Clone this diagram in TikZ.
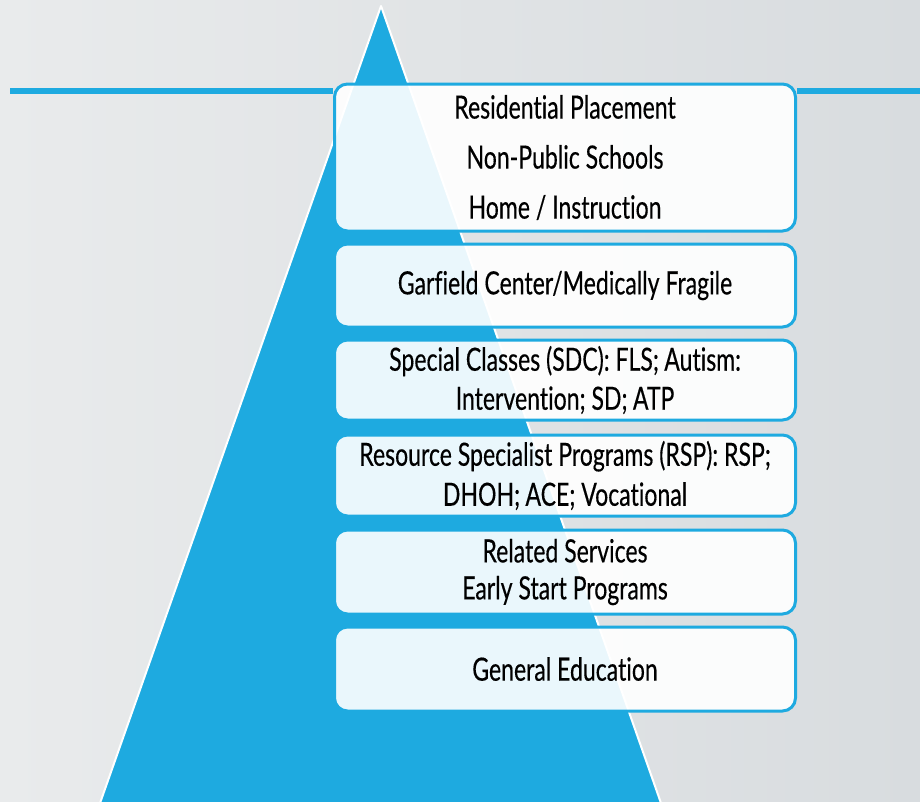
\documentclass[tikz,border=0pt]{standalone}
\usepackage{fontspec}
\setmainfont[FakeStretch=0.72,FakeBold=0.35,Ligatures=NoCommon]{Lato}
\definecolor{pyrblue}{HTML}{1EAAE0}
\definecolor{bgleft}{HTML}{E9EBEC}
\definecolor{bgright}{HTML}{D8DCDF}

\begin{document}
\begin{tikzpicture}[x=1pt,y=-1pt,
    tier/.style={draw=pyrblue,line width=3pt,rounded corners=13pt,fill=white,
      fill opacity=0.91,text opacity=1,minimum width=461pt,align=center,inner sep=0pt},
    tiertext/.style={font=\fontsize{32}{#1}\selectfont}]
\fill[left color=bgleft,right color=bgright] (0,0) rectangle (920,801);
\useasboundingbox (0,0) rectangle (920,801);
% pyramid
\fill[pyrblue,draw=white,line width=2pt,line join=round] (381,6) -- (662,806) -- (99,806) -- cycle;
% tiers
\node[tier,tiertext=50,minimum height=147pt] (resplace) at (565,157.5)
  {Residential Placement\\Non-Public Schools\\Home / Instruction};
\node[tier,tiertext=39,minimum height=83pt] (garfield) at (565,285.5)
  {Garfield Center/Medically Fragile};
\node[tier,tiertext=39,minimum height=80pt] (sdc) at (565,380)
  {Special Classes (SDC): FLS;\,Autism:\\Intervention; SD;\,ATP};
\node[tier,tiertext=40,minimum height=81pt] (rsp) at (565,475.5)
  {Resource Specialist Programs (RSP): RSP;\\DHOH;\,ACE; Vocational};
\node[tier,tiertext=37,minimum height=84pt] (related) at (565,572)
  {Related Services\\Early Start Programs};
\node[tier,tiertext=37,minimum height=84pt] (gened) at (565,669)
  {General Education};
% top rule
\coordinate (ruleL) at (10,90.5);
\coordinate (ruleR) at (920,90.5);
\draw[pyrblue,line width=6pt] (ruleL) -- (ruleL -| resplace.west);
\draw[pyrblue,line width=6pt] (ruleR -| resplace.east) -- (ruleR);
\end{tikzpicture}
\end{document}
